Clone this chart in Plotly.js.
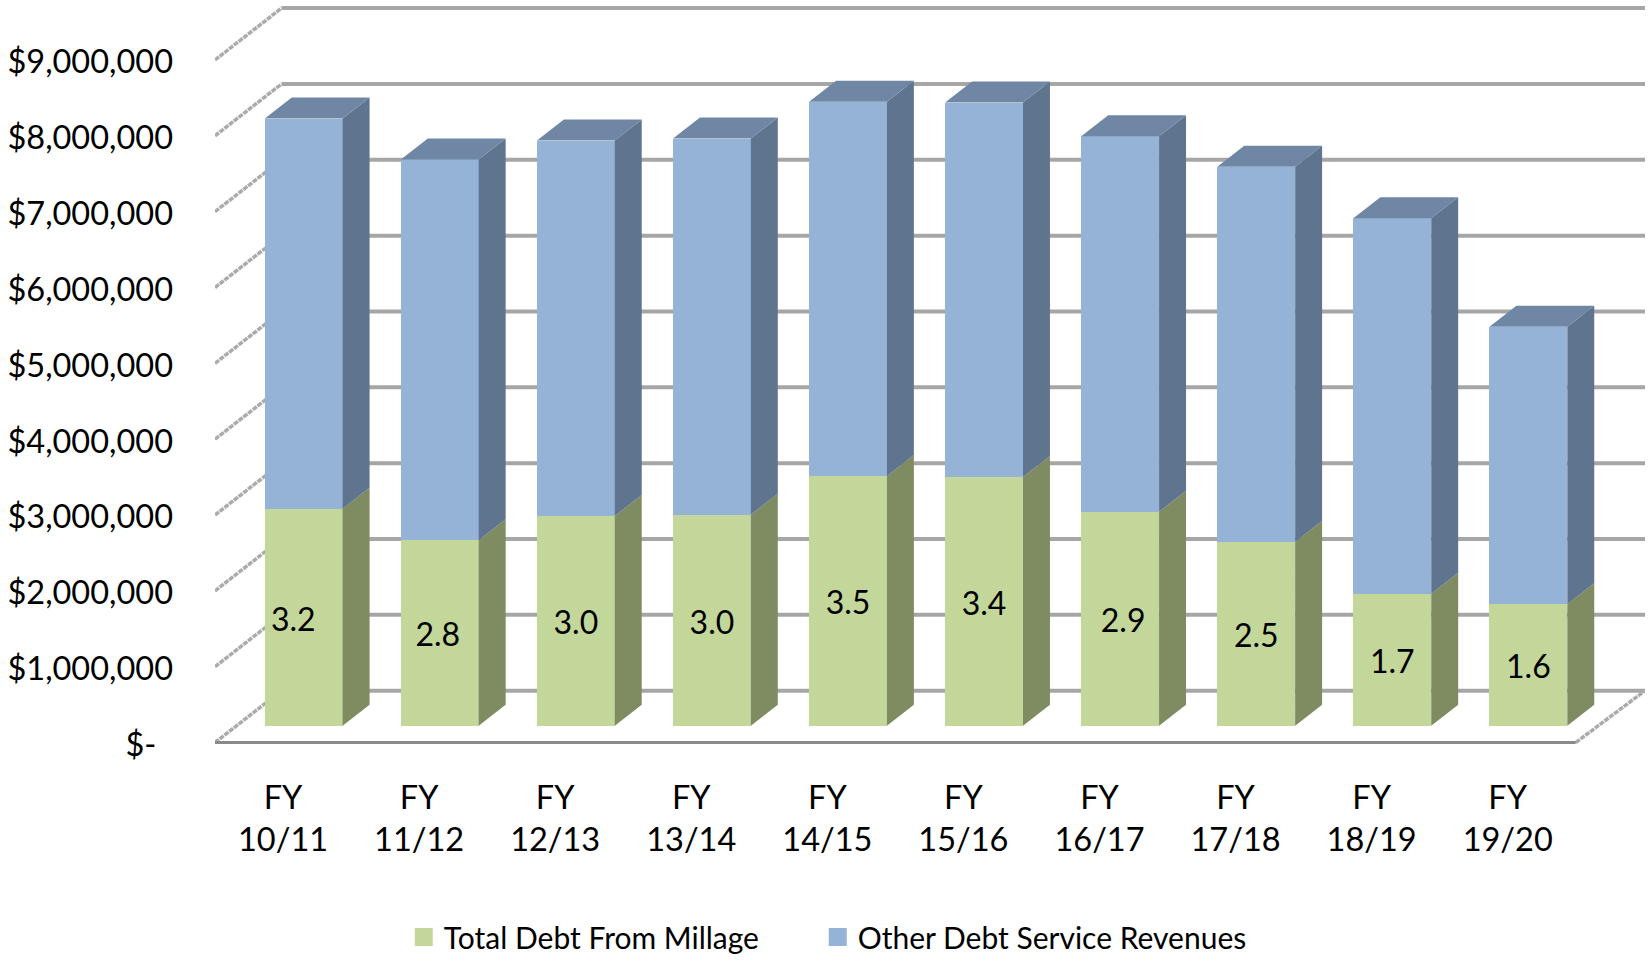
<!DOCTYPE html>
<html>
<head>
<meta charset="utf-8">
<script src="https://cdn.plot.ly/plotly-3.0.0.min.js"></script>
<style>html,body{margin:0;padding:0;background:#fff}#chart{width:1648px;height:965px}</style>
</head>
<body>
<div id="chart"></div>
<script>
// ---- data ----
const categories = ["FY<br>10/11","FY<br>11/12","FY<br>12/13","FY<br>13/14","FY<br>14/15","FY<br>15/16","FY<br>16/17","FY<br>17/18","FY<br>18/19","FY<br>19/20"];
const millageDebt = [2860000,2445000,2765000,2780000,3290000,3280000,2820000,2420000,1740000,1600000];
const otherRevenue = [5145000,5020000,4950000,4960000,4935000,4935000,4950000,4950000,4950000,3660000];
const millLabels = ["3.2","2.8","3.0","3.0","3.5","3.4","2.9","2.5","1.7","1.6"];
const labelNudge = [-0.077,-0.015,0,0,0,0,0.022,0,0,0];
const yTicks = [0,1000000,2000000,3000000,4000000,5000000,6000000,7000000,8000000,9000000];
const yTickText = ["$-\u00a0\u00a0","$1,000,000","$2,000,000","$3,000,000","$4,000,000","$5,000,000","$6,000,000","$7,000,000","$8,000,000","$9,000,000"];
const seriesNames = ["Total Debt From Millage","Other Debt Service Revenues"];

// ---- pseudo-3D projection, in axis units ----
const MIL = 1e6;
const wallDX = 0.489, wallDY = 0.684*MIL;   // depth of the chart box
const barDX = 0.198, barDY = 0.277*MIL;     // depth of a bar
const barShift = 0.152;                     // bars stand forward of the tick centres
const floorLift = 0.223*MIL;                // bar plane above the front axis
const barWidth = 0.572;
const xRange = [-0.5, 9.5+wallDX+0.02];
const yRange = [-0.032*MIL, 9.738*MIL];
const labelDrop = 0.07*MIL;

const idx = categories.map((_,i)=>i);
const barX = idx.map(i=>i+barShift);
const totals = millageDebt.map((v,i)=>v+otherRevenue[i]);

const colors = {green:"#c4d79b",blue:"#95b3d7",greenSide:"#7f8b60",blueSide:"#5f758f",blueTop:"#6f87a5",grid:"#a6a6a6",floor:"#8a8a8a",wall:"#ababab"};
const FONT = "Lato, 'Open Sans', sans-serif";

function polys(build){
  const xs=[],ys=[];
  idx.forEach(i=>{build(i).forEach(p=>{xs.push(p[0]);ys.push(p[1]);});xs.push(null);ys.push(null);});
  return {x:xs,y:ys};
}
const sideFace=(lo,hi)=>polys(i=>{
  const r=barX[i]+barWidth/2;
  return [[r,lo[i]],[r+barDX,lo[i]+barDY],[r+barDX,hi[i]+barDY],[r,hi[i]],[r,lo[i]]];
});
const zeros=idx.map(()=>0);
const sideGreen=sideFace(zeros,millageDebt);
const sideBlue=sideFace(millageDebt,totals);
const topBlue=polys(i=>{
  const l=barX[i]-barWidth/2,r=barX[i]+barWidth/2,t=totals[i];
  return [[l,t],[l+barDX,t+barDY],[r+barDX,t+barDY],[r,t],[l,t]];
});
const faceTrace=(d,c)=>({type:"scatter",mode:"lines",x:d.x,y:d.y,yaxis:"y2",fill:"toself",fillcolor:c,line:{width:0,color:c},hoverinfo:"skip",showlegend:false});

// wall lines
const backX=[],backY=[],leftX=[],leftY=[];
yTicks.forEach(v=>{
  backX.push(xRange[0]+wallDX,xRange[1],null);backY.push(v+wallDY,v+wallDY,null);
  leftX.push(xRange[0],xRange[0]+wallDX,null);leftY.push(v,v+wallDY,null);
});

const traces=[
  {type:"scatter",mode:"lines",x:backX,y:backY,line:{color:colors.grid,width:4},hoverinfo:"skip",showlegend:false},
  {type:"scatter",mode:"lines",x:leftX,y:leftY,line:{color:colors.wall,width:3.5,dash:"5px,1px"},hoverinfo:"skip",showlegend:false},
  {type:"scatter",mode:"lines",x:[9.5,xRange[1]],y:[0,wallDY],line:{color:colors.wall,width:3.5,dash:"5px,1px"},hoverinfo:"skip",showlegend:false},
  {type:"scatter",mode:"lines",x:[xRange[0],9.5],y:[0,0],line:{color:colors.floor,width:3},hoverinfo:"skip",showlegend:false},
  {type:"bar",x:barX,y:millageDebt,yaxis:"y2",width:barWidth,marker:{color:colors.green},name:seriesNames[0],showlegend:false,hoverinfo:"name+y"},
  {type:"bar",x:barX,y:otherRevenue,yaxis:"y2",width:barWidth,marker:{color:colors.blue},name:seriesNames[1],showlegend:false,hoverinfo:"name+y"},
  faceTrace(sideGreen,colors.greenSide),
  faceTrace(sideBlue,colors.blueSide),
  faceTrace(topBlue,colors.blueTop),
  {type:"scatter",mode:"text",x:barX.map((v,i)=>v+labelNudge[i]),y:millageDebt.map(v=>v/2-labelDrop),yaxis:"y2",text:millLabels,textposition:"middle center",textfont:{family:FONT,size:32,color:"#000"},hoverinfo:"skip",showlegend:false,cliponaxis:false},
  {type:"scatter",mode:"markers",x:[null],y:[null],name:seriesNames[0],legend:"legend",marker:{symbol:"square",size:16,color:colors.green,line:{width:2,color:colors.green}}},
  {type:"scatter",mode:"markers",x:[null],y:[null],name:seriesNames[1],legend:"legend2",marker:{symbol:"square",size:16,color:colors.blue,line:{width:2,color:colors.blue}}}
];

const legendBase={orientation:"h",xanchor:"left",y:-0.259,yanchor:"middle",font:{family:FONT,size:30,color:"#000"},itemsizing:"trace",bgcolor:"rgba(0,0,0,0)",borderwidth:0};

const layout={
  width:1648,height:965,
  paper_bgcolor:"#fff",plot_bgcolor:"#fff",
  margin:{l:215,r:3,t:4,b:220,autoexpand:false},
  barmode:"stack",
  font:{family:FONT,size:32,color:"#000"},
  xaxis:{type:"linear",range:xRange,tickmode:"array",tickvals:idx,ticktext:categories,showgrid:false,zeroline:false,showline:false,ticks:"",ticklabelstandoff:30,tickfont:{family:FONT,size:32.5,color:"#000"},fixedrange:true},
  yaxis:{type:"linear",range:yRange,tickmode:"array",tickvals:yTicks,ticktext:yTickText,showgrid:false,zeroline:false,showline:false,ticks:"",ticklabelstandoff:41,ticklabelshift:2,tickfont:{family:FONT,size:32.5,color:"#000"},fixedrange:true},
  yaxis2:{type:"linear",overlaying:"y",range:[yRange[0]-floorLift,yRange[1]-floorLift],visible:false,fixedrange:true},
  legend:Object.assign({},legendBase,{x:0.132}),
  legend2:Object.assign({},legendBase,{x:0.4215})
};
Plotly.newPlot("chart",traces,layout,{displayModeBar:false});
</script>
</body>
</html>
